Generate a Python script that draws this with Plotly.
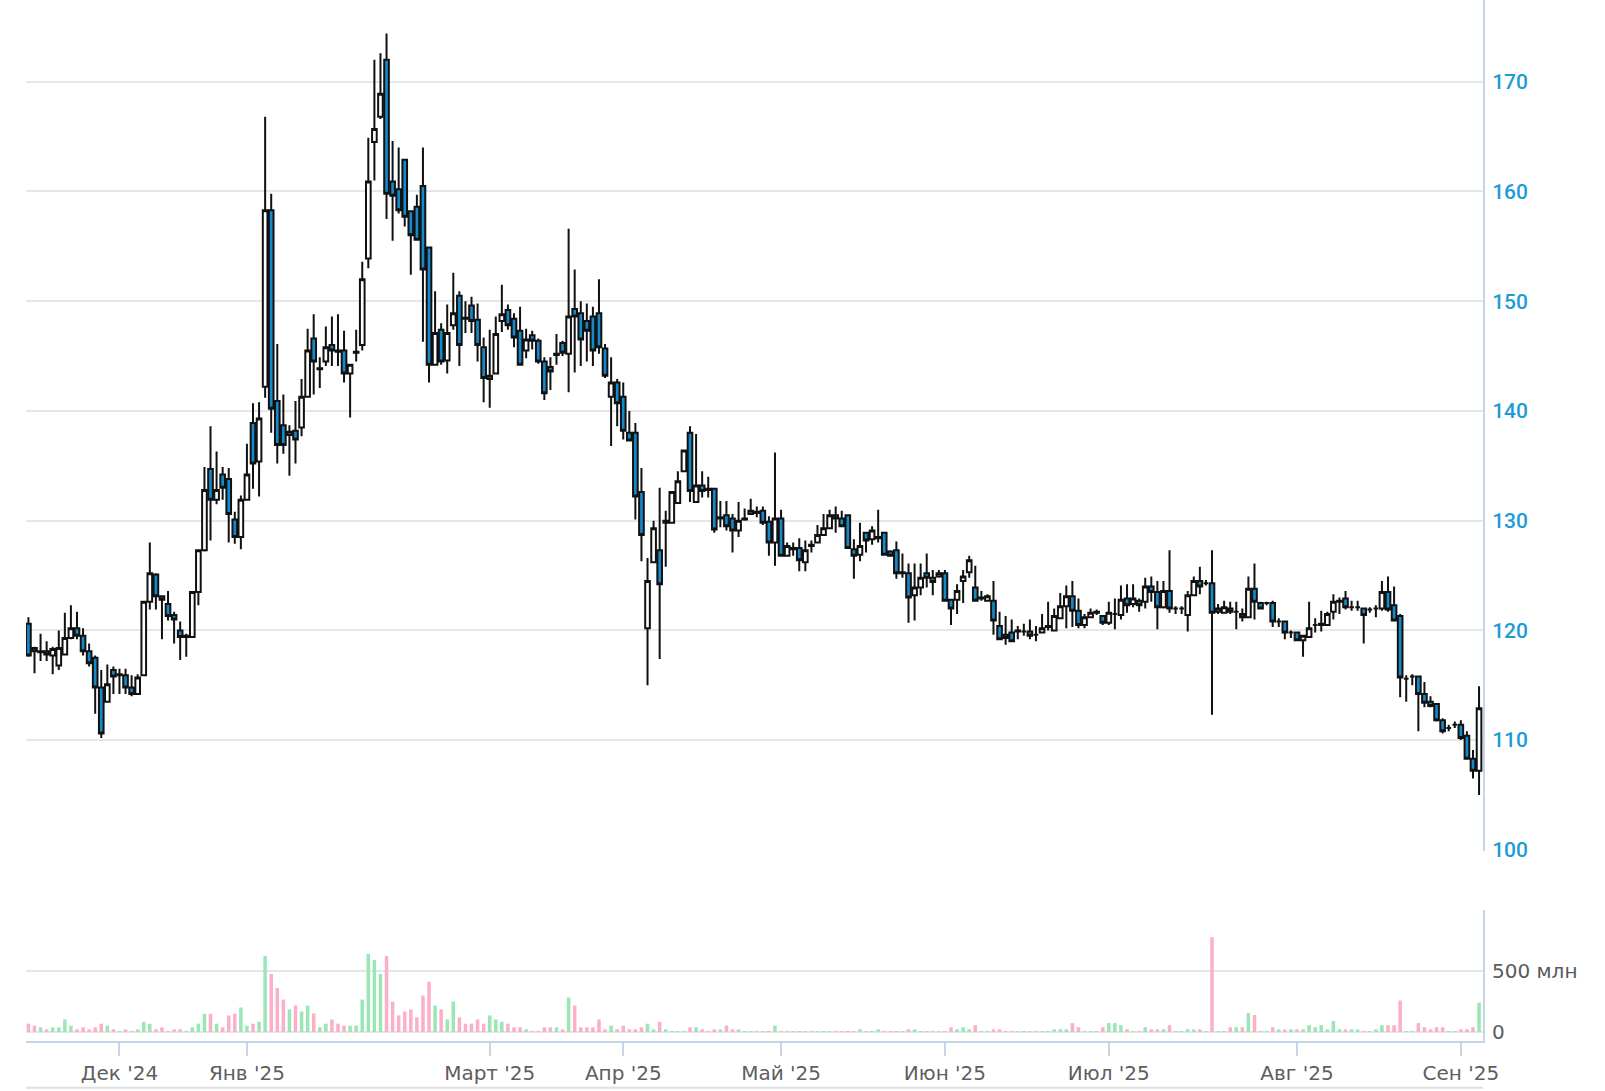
import plotly.graph_objects as go

# ---- data ----
open_ = [120.6,118.4,118.0,118.1,117.7,116.8,117.8,119.3,120.2,119.5,
         118.1,117.5,114.8,113.5,116.4,115.9,115.9,114.8,114.2,115.9,
         122.6,125.1,123.1,122.4,121.4,120.0,119.4,119.4,123.5,127.3,
         134.7,131.9,134.2,133.8,130.1,128.5,131.9,138.9,135.4,142.2,
         158.3,140.9,138.7,137.8,138.2,138.5,141.3,146.6,143.8,144.5,
         146.0,145.5,145.5,143.4,145.3,146.0,153.9,164.5,166.8,172.0,
         160.9,160.2,162.9,158.2,158.6,160.5,154.9,144.2,147.4,144.6,
         147.8,150.5,148.5,149.6,148.3,145.8,142.9,143.4,148.2,149.2,
         148.4,147.3,145.5,146.9,146.4,144.5,144.0,145.1,146.2,145.2,
         149.3,148.9,148.2,148.6,148.9,145.7,141.3,142.6,141.3,138.0,
         138.0,132.6,120.2,126.2,127.3,129.8,129.8,131.6,134.5,138.0,
         131.7,133.2,132.9,132.9,130.2,130.5,130.2,129.1,130.1,130.6,
         130.7,130.9,129.9,128.0,130.2,126.8,127.4,127.5,126.2,127.7,
         128.0,128.7,129.3,130.5,130.2,130.5,127.4,126.9,128.9,128.3,
         128.4,128.9,127.2,127.3,125.2,125.2,123.2,123.9,125.2,124.8,
         124.9,125.2,122.8,122.8,124.5,125.3,123.9,122.9,122.7,122.7,
         120.4,119.6,119.8,119.9,119.9,119.9,119.6,119.8,120.3,120.0,
         121.1,122.2,123.1,121.8,120.5,121.2,121.6,121.3,120.7,121.5,
         121.4,122.9,122.4,122.7,122.6,124.0,123.5,122.1,123.6,122.0,
         122.0,121.4,123.2,124.5,124.3,124.3,121.7,121.6,122.0,121.7,
         121.5,121.2,123.8,122.5,122.5,122.5,120.8,120.8,119.8,119.8,
         119.1,119.4,120.5,120.5,120.5,121.7,122.6,122.9,122.1,122.1,
         122.0,121.9,122.0,122.0,123.5,122.3,121.3,115.6,115.8,115.8,
         114.2,113.5,113.3,111.8,111.1,111.4,111.4,110.4,108.3,107.2]
high = [121.2,118.5,119.7,119.0,118.5,120.0,121.6,122.3,121.7,120.2,
        118.8,117.7,116.4,116.9,116.7,116.5,116.5,115.9,116.0,122.6,
        128.0,125.2,123.1,123.6,121.7,120.8,119.7,123.5,127.3,134.9,
        138.6,136.3,134.9,134.8,130.8,132.3,137.0,140.7,140.8,166.8,
        159.8,146.1,141.5,138.7,140.9,142.9,147.5,148.8,144.9,147.7,
        148.6,148.8,147.3,144.2,147.4,153.6,164.9,172.0,172.6,174.4,
        164.6,164.0,162.9,158.2,159.7,164.0,154.9,150.9,148.0,149.7,
        152.6,150.9,150.0,150.4,149.8,146.7,147.4,148.6,151.5,149.7,
        148.9,149.5,147.5,147.3,146.6,144.9,144.9,147.0,146.4,156.6,
        152.9,150.0,149.8,149.5,152.0,146.1,144.9,142.9,142.6,140.0,
        138.9,134.8,126.6,130.0,133.0,130.9,132.7,134.5,136.4,138.6,
        137.9,134.5,134.0,132.9,131.8,131.8,130.6,131.7,131.1,132.0,
        131.3,131.3,130.4,136.2,131.0,128.0,128.0,128.4,128.2,128.2,
        129.6,130.6,131.0,131.3,130.9,130.5,128.3,129.8,128.9,129.5,
        131.0,128.9,127.3,128.1,127.0,126.1,126.1,126.1,127.0,125.5,
        125.5,125.5,122.8,124.2,125.5,126.8,125.9,123.6,123.3,124.5,
        121.7,121.3,121.0,120.4,120.6,121.0,120.4,121.5,122.6,122.0,
        123.4,124.1,124.5,122.9,121.5,122.0,121.9,121.3,122.6,122.9,
        124.1,124.2,124.2,122.9,124.8,124.9,124.5,124.5,127.3,122.2,
        122.2,123.6,124.9,125.8,124.6,127.3,122.4,122.7,122.6,122.6,
        122.0,124.9,126.1,122.6,122.6,122.7,121.1,120.9,120.0,119.9,
        119.5,122.6,121.1,121.8,121.7,123.3,123.0,123.6,122.7,122.7,
        122.0,122.1,122.3,124.5,124.9,124.0,121.5,115.9,116.0,115.8,
        115.3,114.0,113.3,112.0,111.4,111.7,111.8,110.8,109.1,114.9]
low = [117.6,116.1,117.2,117.2,116.0,116.4,117.8,119.2,119.2,117.7,
       116.7,112.4,110.2,113.5,114.2,114.2,114.2,114.0,114.2,115.9,
       121.9,121.9,119.2,120.9,118.8,117.3,117.6,119.4,122.3,127.2,
       128.2,131.5,131.9,128.0,127.9,127.4,131.9,132.9,132.2,141.2,
       138.0,135.2,136.1,134.1,135.2,137.7,141.3,141.5,142.1,144.1,
       144.1,144.1,142.6,139.4,144.5,145.5,153.0,161.0,166.6,157.5,
       155.5,158.0,156.8,152.4,155.5,146.3,142.6,144.2,144.2,143.4,
       147.4,144.1,147.1,147.1,144.5,140.8,140.3,143.4,147.2,147.4,
       145.8,144.2,144.8,145.6,144.3,141.0,141.9,144.2,145.0,141.7,
       143.5,144.1,144.5,144.1,145.2,143.0,136.8,138.6,137.4,137.3,
       130.1,126.3,115.0,126.2,117.4,125.8,129.8,131.6,134.5,131.7,
       131.7,132.1,132.1,128.9,129.4,129.1,127.1,128.5,130.0,130.6,
       130.3,129.6,126.8,125.9,126.8,126.8,126.8,125.4,125.4,127.1,
       128.0,128.7,129.3,128.9,129.4,127.5,124.7,126.3,127.1,127.8,
       128.0,126.8,126.7,124.7,124.8,120.7,120.9,123.2,123.9,123.2,
       124.8,122.6,120.5,121.5,122.5,124.8,122.6,122.7,122.6,119.6,
       119.2,118.7,119.0,119.2,119.5,119.2,119.0,119.8,120.0,120.0,
       121.1,120.2,120.3,120.2,120.2,121.2,121.4,120.5,120.5,120.1,
       121.0,121.6,122.1,121.7,122.0,122.6,120.1,122.0,121.6,121.5,
       121.5,119.9,123.2,123.3,124.1,112.3,121.5,121.6,121.5,120.1,
       120.8,121.2,121.0,122.0,122.3,120.3,120.3,119.2,119.3,119.0,
       117.6,119.4,119.8,119.9,120.5,121.0,121.5,121.9,121.8,121.8,
       118.8,121.6,121.2,121.8,121.7,120.8,113.9,113.5,115.0,110.8,
       113.0,113.0,111.7,110.6,110.8,111.1,110.0,108.3,106.5,105.0]
close = [117.7,118.1,118.1,117.8,118.3,118.4,119.3,120.2,119.5,118.1,
         117.0,114.8,110.6,115.1,115.8,116.0,114.8,114.2,115.7,122.6,
         125.2,123.1,122.8,121.3,121.0,119.4,119.5,123.5,127.3,132.8,
         131.9,132.8,133.0,130.6,128.5,131.9,134.2,135.2,139.3,158.3,
         140.2,136.9,136.9,138.1,137.4,141.3,145.5,144.5,143.9,145.8,
         145.5,145.4,143.4,144.2,145.4,152.0,160.9,165.7,168.9,159.8,
         159.6,158.3,157.7,156.0,155.6,152.9,144.2,147.1,144.5,147.1,
         148.9,146.0,148.4,148.2,146.0,143.0,143.2,147.0,148.8,147.8,
         146.7,144.2,146.5,146.4,144.5,141.6,143.6,145.2,145.3,148.6,
         148.6,146.5,147.3,145.5,145.8,143.2,142.6,140.7,138.2,137.3,
         132.2,128.7,124.5,129.3,124.2,130.0,132.6,133.6,136.4,132.7,
         133.2,132.7,132.8,129.2,130.3,129.5,129.1,130.0,130.2,130.9,
         130.8,129.8,128.0,130.2,126.8,127.7,127.5,126.4,127.3,127.8,
         128.7,129.3,130.5,130.2,129.5,127.5,126.8,127.7,128.2,129.1,
         128.5,126.9,126.8,125.2,125.3,123.0,123.9,124.8,124.8,124.4,
         125.2,122.7,122.0,123.6,124.9,126.4,122.7,123.0,123.1,120.9,
         119.2,119.3,119.0,120.0,119.9,119.5,119.6,120.2,120.4,121.3,
         122.2,123.1,121.8,120.5,121.2,121.6,121.7,120.7,121.6,121.5,
         122.8,122.3,122.9,122.3,124.0,123.5,122.1,123.6,122.0,122.0,
         122.0,123.2,124.5,124.0,124.3,121.6,122.0,122.1,121.7,121.7,
         121.2,123.8,122.6,122.0,122.5,120.8,120.8,119.8,119.8,119.1,
         119.5,120.2,120.5,120.6,121.5,122.6,122.7,122.1,122.1,122.1,
         121.4,121.9,122.0,123.5,121.9,120.9,115.7,115.6,115.8,114.2,
         113.4,113.1,111.8,110.8,111.1,111.4,110.2,108.3,107.2,112.9]
volume_mln = [68,52,38,22,38,38,103,52,22,38,
              22,38,68,52,22,1,22,1,22,84,
              68,22,38,1,22,22,1,38,68,150,
              150,68,38,136,150,201,52,68,84,625,
              476,361,266,185,217,168,217,152,38,68,
              103,68,52,52,52,266,641,592,476,625,
              250,136,168,185,120,299,413,217,185,103,
              250,120,68,68,103,68,136,103,84,68,
              38,38,22,1,1,38,38,38,22,283,
              217,38,38,38,103,22,52,22,52,22,
              22,38,68,22,84,22,1,1,1,38,
              38,22,1,22,22,52,22,22,1,1,
              1,1,1,52,1,1,1,1,1,1,
              1,1,1,1,1,1,1,22,1,1,
              22,1,1,1,1,22,22,1,1,1,
              1,1,39,22,39,22,56,1,1,22,
              22,1,1,1,1,1,1,1,1,22,
              22,22,73,39,1,1,1,39,73,73,
              56,22,1,1,39,22,22,22,56,1,
              1,22,22,22,1,778,1,1,39,39,
              39,157,140,1,1,39,22,22,22,22,
              22,56,39,56,22,90,22,22,22,22,
              1,1,22,56,56,56,258,1,1,73,
              39,22,39,39,1,1,22,22,39,242]
month_tick_session = [15, 36, 76, 98, 124, 151, 178, 209, 236]
month_tick_label = ["Дек '24", "Янв '25", "Март '25", "Апр '25", "Май '25",
                    "Июн '25", "Июл '25", "Авг '25", "Сен '25"]
price_ticks = [100, 110, 120, 130, 140, 150, 160, 170]
volume_ticks = [0, 500, 1000]
volume_tick_text = ["0", "500 млн", ""]

session = list(range(len(close)))
vol_colors = ["#9ae6b4" if c >= o else "#fbb0c8" for o, c in zip(open_, close)]

AXIS_BLUE = "#c8d4e8"
GRID = "#e6e6e6"

fig = go.Figure()
fig.add_trace(go.Bar(x=session, y=volume_mln, marker_color=vol_colors,
                     marker_line_width=0, xaxis="x2", yaxis="y2",
                     hoverinfo="skip", showlegend=False))
fig.add_trace(go.Candlestick(
    x=session, open=open_, high=high, low=low, close=close,
    xaxis="x", yaxis="y",
    increasing=dict(line=dict(color="#111111", width=2), fillcolor="#ffffff"),
    decreasing=dict(line=dict(color="#111111", width=2), fillcolor="#1689c9"),
    whiskerwidth=0, showlegend=False))

xr = [-0.4, 239.65]
fig.update_layout(
    width=1605, height=1091,
    margin=dict(l=26, r=122, t=0, b=50),
    paper_bgcolor="#ffffff", plot_bgcolor="#ffffff",
    font=dict(family="Roboto, Arial, sans-serif"),
    boxgap=0.15, boxgroupgap=0.1, bargap=0.42,
    showlegend=False,
    xaxis=dict(domain=[0, 1], anchor="y", range=xr, showticklabels=False,
               showgrid=False, zeroline=False, showline=False,
               rangeslider=dict(visible=False), matches="x2"),
    yaxis=dict(domain=[0.1829, 1], anchor="x", side="right",
               range=[99.93, 177.45], tickvals=price_ticks,
               gridcolor=GRID, gridwidth=2, zeroline=False,
               showline=True, linecolor=AXIS_BLUE, linewidth=2,
               ticks="", tickfont=dict(family="Roboto", size=21, weight=500,
                                       color="#1d9bd7"),
               ticklabelstandoff=3),
    xaxis2=dict(domain=[0, 1], anchor="y2", range=xr,
                tickvals=month_tick_session, ticktext=month_tick_label,
                ticks="outside", ticklen=13, tickwidth=2, tickcolor=AXIS_BLUE,
                showline=True, linecolor=AXIS_BLUE, linewidth=2,
                showgrid=False, zeroline=False,
                tickfont=dict(family="DejaVu Sans", size=20, color="#5e5e5e")),
    yaxis2=dict(domain=[0, 0.1258], anchor="x2", side="right",
                range=[-74, 1001], tickvals=volume_ticks, ticktext=volume_tick_text,
                gridcolor=GRID, gridwidth=2, zeroline=False,
                showline=True, linecolor=AXIS_BLUE, linewidth=2,
                ticks="", tickfont=dict(family="DejaVu Sans", size=20, color="#5a5a5a"),
                ticklabelstandoff=3),
    shapes=[dict(type="line", xref="paper", yref="paper", x0=0, x1=1,
                 y0=-0.045, y1=-0.045, line=dict(color="#e0e0e0", width=2))],
)

fig.write_html("out.html", config={"displayModeBar": False},
               post_script="document.body.style.margin='0';document.body.style.overflow='hidden';")
